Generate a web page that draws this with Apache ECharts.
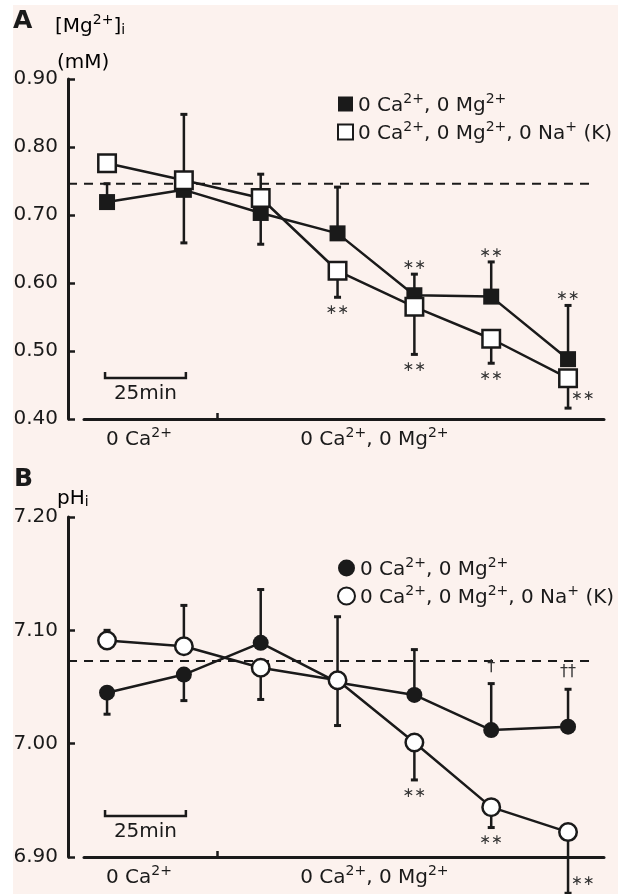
<!DOCTYPE html>
<html><head><meta charset="utf-8">
<script src="https://cdn.jsdelivr.net/npm/echarts@6/dist/echarts.min.js"></script>
<style>
html,body{margin:0;padding:0;background:#fff;}
#bg{position:absolute;left:13px;top:5px;width:605px;height:889px;background:#fcf2ee;}
#chart{position:absolute;left:0;top:0;width:628px;height:894px;}
</style></head><body>
<div id="bg"></div><div id="chart"></div>
<script>
// ---------------- data ----------------
const minutes = [0, 25, 50, 75, 100, 125, 150];
const seriesNames = ['0 Ca^{2+}, 0 Mg^{2+}', '0 Ca^{2+}, 0 Mg^{2+}, 0 Na^{+} (K)'];
const periodLabels = ['0 Ca^{2+}', '0 Ca^{2+}, 0 Mg^{2+}'];
const periodLabelAt = [10.4, 87];
const periodBoundary = [36];

// Panel A: [Mg2+]i (mM)
const mgFilled = [0.719, 0.737, 0.703, 0.673, 0.582, 0.580, 0.488];
const mgOpen   = [0.776, 0.751, 0.725, 0.618, 0.565, 0.518, 0.460];
const mgFilledUp   = [0.746, null, null, 0.741, 0.613, 0.631, 0.567];
const mgFilledDown = [null, 0.659, 0.657, null, null, null, null];
const mgOpenUp     = [null, 0.848, 0.760, null, null, null, null];
const mgOpenDown   = [null, null, null, 0.579, 0.495, 0.482, 0.416];
const mgFilledSig  = ['', '', '', '', '∗∗', '∗∗', '∗∗'];
const mgOpenSig    = ['', '', '', '∗∗', '∗∗', '∗∗', '∗∗'];
const mgBaseline = 0.746;

// Panel B: pHi
const phFilled = [7.045, 7.061, 7.089, 7.054, 7.043, 7.012, 7.015];
const phOpen   = [7.091, 7.086, 7.067, 7.056, 7.001, 6.944, 6.922];
const phFilledUp   = [null, null, 7.136, 7.112, 7.083, 7.053, 7.048];
const phFilledDown = [7.026, 7.038, null, null, null, null, null];
const phOpenUp     = [7.100, 7.122, null, null, null, null, null];
const phOpenDown   = [null, null, 7.039, 7.016, 6.968, 6.926, 6.868];
const phFilledSig  = ['', '', '', '', '', '†', '††'];
const phOpenSig    = ['', '', '', '', '∗∗', '∗∗', '∗∗'];
const phBaseline = 7.073;

const scaleBarMinutes = 25;

// ---------------- style ----------------
const INK = '#1a1a1a';
const FONT = 'DejaVu Sans';
const X_MIN = -7.5, X_MAX = 161.7;
const DASH_FROM = -12.7, DASH_TO = 157;

function rich(str) {
  let out = '';
  const re = /\^\{([^}]*)\}|_\{([^}]*)\}|([^^_]+)/g;
  let m;
  while ((m = re.exec(str))) {
    if (m[1] !== undefined) out += '{s|' + m[1] + '}';
    else if (m[2] !== undefined) out += '{b|' + m[2] + '}';
    else out += '{n|' + m[3] + '}';
  }
  return out;
}
function richStyles(size) {
  const small = Math.round(size * 0.7);
  return {
    n: {fontFamily: FONT, fontSize: size, lineHeight: 24, verticalAlign: 'bottom', color: INK},
    s: {fontFamily: FONT, fontSize: small, lineHeight: 14, verticalAlign: 'top', color: INK},
    b: {fontFamily: FONT, fontSize: small, lineHeight: 13, verticalAlign: 'bottom', color: INK}
  };
}

function xAxisDef(gi) {
  return {
    type: 'value', gridIndex: gi, min: X_MIN, max: X_MAX,
    axisLine: {show: true, onZero: false, lineStyle: {color: INK, width: 3}},
    axisTick: {show: true, inside: true, length: 6, customValues: periodBoundary, lineStyle: {color: INK, width: 2.5}},
    axisLabel: {show: true, margin: 7, customValues: periodLabelAt,
      formatter: v => { const k = periodLabelAt.indexOf(v); return k < 0 ? '' : rich(periodLabels[k]); },
      rich: richStyles(20)},
    splitLine: {show: false}
  };
}
function yAxisDef(gi, min, max) {
  return {
    type: 'value', gridIndex: gi, min: min, max: max, interval: 0.1, offset: 16,
    axisLine: {show: true, onZero: false, lineStyle: {color: INK, width: 3}},
    axisTick: {show: true, inside: true, length: 7, lineStyle: {color: INK, width: 2.5}},
    axisLabel: {margin: 10, fontFamily: FONT, fontSize: 20, color: INK, formatter: v => v.toFixed(2)},
    splitLine: {show: false}
  };
}

function lineSeries(gi, name, vals, symbol, open) {
  return {
    type: 'line', name: name, xAxisIndex: gi, yAxisIndex: gi,
    data: minutes.map((m, i) => [m, vals[i]]),
    symbol: symbol, symbolSize: open ? 17.5 : 16, showAllSymbol: true,
    itemStyle: open ? {color: '#fff', borderColor: INK, borderWidth: 2.5} : {color: INK, borderColor: INK, borderWidth: 0},
    lineStyle: {color: INK, width: 2.5},
    z: open ? 4 : 3, silent: true
  };
}

function errorSeries(gi, centers, ups, downs, sigUp, sigDown, upGap) {
  return {
    type: 'custom', xAxisIndex: gi, yAxisIndex: gi, z: 1, silent: true, clip: false,
    data: minutes.map((m, i) => [m, centers[i]]),
    encode: {x: 0, y: 1},
    renderItem: function (params, api) {
      const i = params.dataIndex;
      const x = minutes[i];
      const c = api.coord([x, centers[i]]);
      const children = [];
      const bar = (end, sig, dir) => {
        if (end == null) return;
        const e = api.coord([x, end]);
        children.push({type: 'line', shape: {x1: c[0], y1: c[1], x2: e[0], y2: e[1]}, style: {stroke: INK, lineWidth: 2.5}});
        children.push({type: 'line', shape: {x1: e[0] - 3.5, y1: e[1], x2: e[0] + 3.5, y2: e[1]}, style: {stroke: INK, lineWidth: 3}});
        if (sig) {
          let tx = e[0], ty;
          if (dir < 0) ty = e[1] - upGap;
          else if (i === minutes.length - 1) { tx = e[0] + 15; ty = e[1] - 12; }
          else ty = e[1] + 13;
          const dagger = sig.indexOf('†') >= 0;
          children.push({type: 'text', style: {text: sig, x: tx, y: ty, align: 'center', verticalAlign: 'middle',
            fontFamily: FONT, fontSize: dagger ? 16 : 14, fill: '#333'}});
        }
      };
      bar(ups[i], sigUp ? sigUp[i] : '', -1);
      bar(downs[i], sigDown ? sigDown[i] : '', 1);
      return {type: 'group', children: children};
    }
  };
}

function decorSeries(gi, baseline, yMin) {
  return {
    type: 'custom', xAxisIndex: gi, yAxisIndex: gi, z: 0, silent: true, clip: false,
    data: [[0, baseline]], encode: {x: 0, y: 1},
    renderItem: function (params, api) {
      const a = api.coord([DASH_FROM, baseline]);
      const b = api.coord([DASH_TO, baseline]);
      const s0 = api.coord([0, yMin]);
      const s1 = api.coord([scaleBarMinutes, yMin]);
      const by = s0[1] - 41;
      return {type: 'group', children: [
        {type: 'line', shape: {x1: a[0], y1: a[1], x2: b[0], y2: b[1]}, style: {stroke: INK, lineWidth: 2, lineDash: [9, 7]}},
        {type: 'polyline', shape: {points: [[s0[0] - 2, by - 6], [s0[0] - 2, by], [s1[0] + 2, by], [s1[0] + 2, by - 6]]}, style: {stroke: INK, lineWidth: 2.5, fill: null}},
        {type: 'text', style: {text: scaleBarMinutes + 'min', x: (s0[0] + s1[0]) / 2, y: by + 16, align: 'center', verticalAlign: 'middle', fontFamily: FONT, fontSize: 20, fill: INK}}
      ]};
    }
  };
}

function legendDef(top, icon, size) {
  return {
    top: top, left: 337, orient: 'vertical', itemWidth: size, itemHeight: size, itemGap: 4, padding: 0,
    selectedMode: false,
    data: [
      {name: seriesNames[0], icon: icon, itemStyle: {color: INK, borderWidth: 0}},
      {name: seriesNames[1], icon: icon, itemStyle: {color: '#fff', borderColor: INK, borderWidth: 2}}
    ],
    formatter: n => rich(n),
    textStyle: {rich: richStyles(20)}
  };
}

const chart = echarts.init(document.getElementById('chart'), null, {renderer: 'canvas'});
chart.setOption({
  animation: false,
  backgroundColor: 'transparent',
  grid: [
    {left: 84, right: 24, top: 79, height: 340, containLabel: false, outerBoundsMode: 'none'},
    {left: 84, right: 24, top: 517, height: 340, containLabel: false, outerBoundsMode: 'none'}
  ],
  xAxis: [xAxisDef(0), xAxisDef(1)],
  yAxis: [yAxisDef(0, 0.4, 0.9), yAxisDef(1, 6.9, 7.2)],
  legend: [legendDef(92, 'rect', 15), legendDef(556, 'circle', 17)],
  graphic: [
    {type: 'text', x: 13, y: 21, style: {text: 'A', fontFamily: FONT, fontWeight: 'bold', fontSize: 25, fill: INK, verticalAlign: 'middle'}},
    {type: 'text', x: 55, y: 25, style: {text: rich('[Mg^{2+}]_{i}'), rich: richStyles(20), verticalAlign: 'middle'}},
    {type: 'text', x: 57, y: 61, style: {text: rich('(mM)'), rich: richStyles(20), verticalAlign: 'middle'}},
    {type: 'text', x: 14, y: 479, style: {text: 'B', fontFamily: FONT, fontWeight: 'bold', fontSize: 25, fill: INK, verticalAlign: 'middle'}},
    {type: 'text', x: 57, y: 497, style: {text: rich('pH_{i}'), rich: richStyles(20), verticalAlign: 'middle'}}
  ],
  series: [
    decorSeries(0, mgBaseline, 0.4),
    errorSeries(0, mgFilled, mgFilledUp, mgFilledDown, mgFilledSig, null, 9),
    errorSeries(0, mgOpen, mgOpenUp, mgOpenDown, null, mgOpenSig, 9),
    lineSeries(0, seriesNames[0], mgFilled, 'rect', false),
    lineSeries(0, seriesNames[1], mgOpen, 'rect', true),
    decorSeries(1, phBaseline, 6.9),
    errorSeries(1, phFilled, phFilledUp, phFilledDown, phFilledSig, null, 17),
    errorSeries(1, phOpen, phOpenUp, phOpenDown, null, phOpenSig, 17),
    lineSeries(1, seriesNames[0], phFilled, 'circle', false),
    lineSeries(1, seriesNames[1], phOpen, 'circle', true)
  ]
});
</script>
</body></html>
